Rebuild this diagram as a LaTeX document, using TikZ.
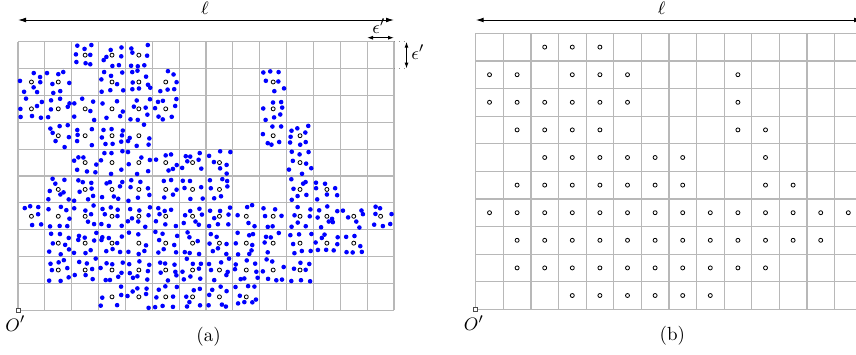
\documentclass[tikz,border=0pt]{standalone}
\usetikzlibrary{arrows.meta,calc}
\begin{document}
\begin{tikzpicture}[x=0.5pt,y=-0.5pt, font=\fontsize{9.5}{11}\selectfont,
  gridline/.style={draw=black!28, line width=0.6pt},
  dimarrow/.style={{Latex[length=4pt,width=2.4pt]}-{Latex[length=4pt,width=2.4pt]}, line width=0.5pt},
  smallarrow/.style={{Latex[length=3pt,width=2pt]}-{Latex[length=3pt,width=2pt]}, line width=0.5pt},
  guide/.style={draw=black!45, dotted, line width=0.4pt},
  hollow/.style={draw=black, line width=0.4pt, fill=white},
  bluedot/.style={fill=blue},
  origin/.style={draw=black!70, line width=0.35pt, fill=white, minimum size=2pt, inner sep=0pt, rectangle}]
\useasboundingbox (0,0) rectangle (856,354);
\clip (0,0) rectangle (856,354);
\def\cells{0/{2,3,4}, 1/{0,1,3,4,5,9}, 2/{0,1,2,3,4,5,9}, 3/{1,2,3,4,9,10}, 4/{2,3,4,5,6,7,10}, 5/{1,2,3,4,5,6,7,10,11}, 6/{0,1,2,3,4,5,6,7,8,9,10,11,12,13}, 7/{1,2,3,4,5,6,7,8,9,10,11,12}, 8/{1,2,3,4,5,6,7,8,9,10}, 9/{3,4,5,6,7,8}}
% ---------- panel (a) ----------
\foreach \i in {0,...,14} \draw[gridline] ({18+\i*26.86},41.7) -- ({18+\i*26.86},310.3);
\foreach \j in {0,...,10} \draw[gridline] (18,{41.7+\j*26.86}) -- (394,{41.7+\j*26.86});
\coordinate (la1) at (18,20);
\coordinate (la2) at (394,20);
\draw[dimarrow] (la1) -- (la2);
\node (ella) at (205,8.5) {$\ell$};
\coordinate (eh1) at (367,37.7);
\coordinate (eh2) at (394,37.7);
\draw[smallarrow] (eh1) -- (eh2);
\node (epsh) at (379,26) {$\epsilon'$};
\coordinate (gc1) at (394,41.7);
\coordinate (gc2) at (394,68.56);
\coordinate (ev1) at (406.5,41.7);
\coordinate (ev2) at (406.5,68.56);
\draw[guide] (gc1) -- (ev1);
\draw[guide] (gc2) -- (ev2);
\draw[smallarrow] (ev1) -- (ev2);
\node (epsv) at (418,52) {$\epsilon'$};
\node[origin] (oa) at (18,310.3) {};
\node (oalab) at (15.5,323.5) {$O'$};
\node (capa) at (208.5,337) {(a)};
\pgfmathsetseed{4242}
\foreach \row/\cs in \cells {
  \foreach \col in \cs {
    \coordinate (a\row-\col) at ({18+(\col+0.5)*26.86},{41.7+(\row+0.5)*26.86});
    \foreach \dx/\dy in {-1/-1,0/-1,1/-1,-1/0,1/0,-1/1,0/1,1/1} {
      \pgfmathsetmacro\keep{rnd}
      \pgfmathsetmacro\jx{\dx*8.2+6.5*(rnd-0.5)}
      \pgfmathsetmacro\jy{\dy*8.2+6.5*(rnd-0.5)}
      \ifdim\keep pt<0.87pt
        \fill[bluedot] ($(a\row-\col)+(\jx,\jy)$) circle (1.15pt);
      \fi
    }
    \draw[hollow] (a\row-\col) circle (1pt);
  }
}
% ---------- panel (b) ----------
\foreach \i in {0,...,14} \draw[gridline] ({475.7+\i*27.6},33.3) -- ({475.7+\i*27.6},309.3);
\foreach \j in {0,...,10} \draw[gridline] (475.7,{33.3+\j*27.6}) -- (862,{33.3+\j*27.6});
\coordinate (lb1) at (475.7,20);
\coordinate (lb2) at (862,20);
\draw[dimarrow] (lb1) -- (lb2);
\node (ellb) at (661.7,8.5) {$\ell$};
\node[origin] (ob) at (475.7,309.3) {};
\node (oblab) at (474,323) {$O'$};
\node (capb) at (672.3,336) {(b)};
\foreach \row/\cs in \cells {
  \foreach \col in \cs {
    \coordinate (b\row-\col) at ({475.7+(\col+0.5)*27.6},{33.3+(\row+0.5)*27.6});
    \draw[hollow] (b\row-\col) circle (1pt);
  }
}
\end{tikzpicture}
\end{document}
